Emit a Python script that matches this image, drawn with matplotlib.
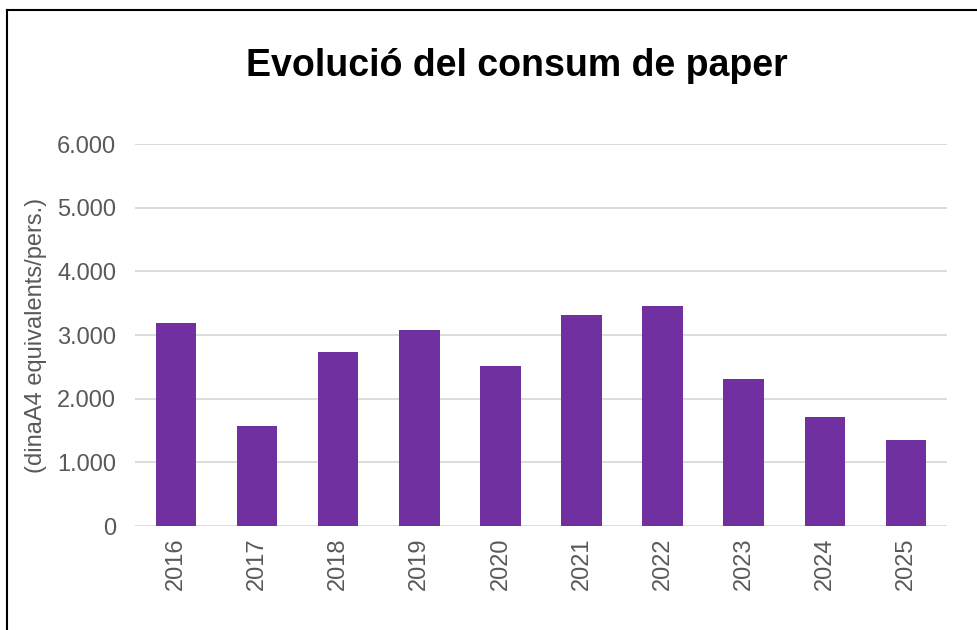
import matplotlib
matplotlib.use("Agg")
import matplotlib.pyplot as plt
from matplotlib.ticker import FuncFormatter
from matplotlib.lines import Line2D

years = ["2016", "2017", "2018", "2019", "2020", "2021", "2022", "2023", "2024", "2025"]
consum = [3185, 1567, 2728, 3080, 2510, 3315, 3452, 2310, 1713, 1356]
yticks = [0, 1000, 2000, 3000, 4000, 5000, 6000]

plt.rcParams['font.family'] = ['Liberation Sans', 'DejaVu Sans']

fig = plt.figure(figsize=(9.78, 6.30), dpi=100)
ax = fig.add_axes([0.1385, 0.165, 0.8293, 0.6064])

x = range(len(years))
ax.bar(x, consum, width=0.5, color="#7030A0", zorder=3)

ax.set_xlim(-0.5, len(years) - 0.5)
ax.set_ylim(0, 6000)
ax.set_yticks(yticks)
ax.yaxis.set_major_formatter(FuncFormatter(lambda v, p: f"{int(v):,}".replace(",", ".")))
ax.set_xticks(list(x))
ax.set_xticklabels(years, rotation=90)

ax.grid(axis="y", color="#d9d9d9", linewidth=1.3, zorder=0)
for s in ax.spines.values():
    s.set_visible(False)
ax.tick_params(axis="both", length=0, labelsize=17, colors="#595959")
ax.tick_params(axis="y", pad=14)
ax.tick_params(axis="x", pad=8)

ax.set_ylabel("(dinaA4 equivalents/pers.)", fontsize=17, color="#595959")
ax.yaxis.set_label_coords(-0.109, 0.5)

fig.text(0.528, 0.895, "Evolució del consum de paper", ha="center", va="center",
         fontsize=27, fontweight="bold", color="black")

# chart frame (only top and left edges visible in the crop)
fig.add_artist(Line2D([7 / 978, 1], [1 - 10 / 630] * 2, color="black", linewidth=1.5))
fig.add_artist(Line2D([7 / 978] * 2, [0, 1 - 10 / 630], color="black", linewidth=1.5))

fig.savefig("out.png", dpi=100)
